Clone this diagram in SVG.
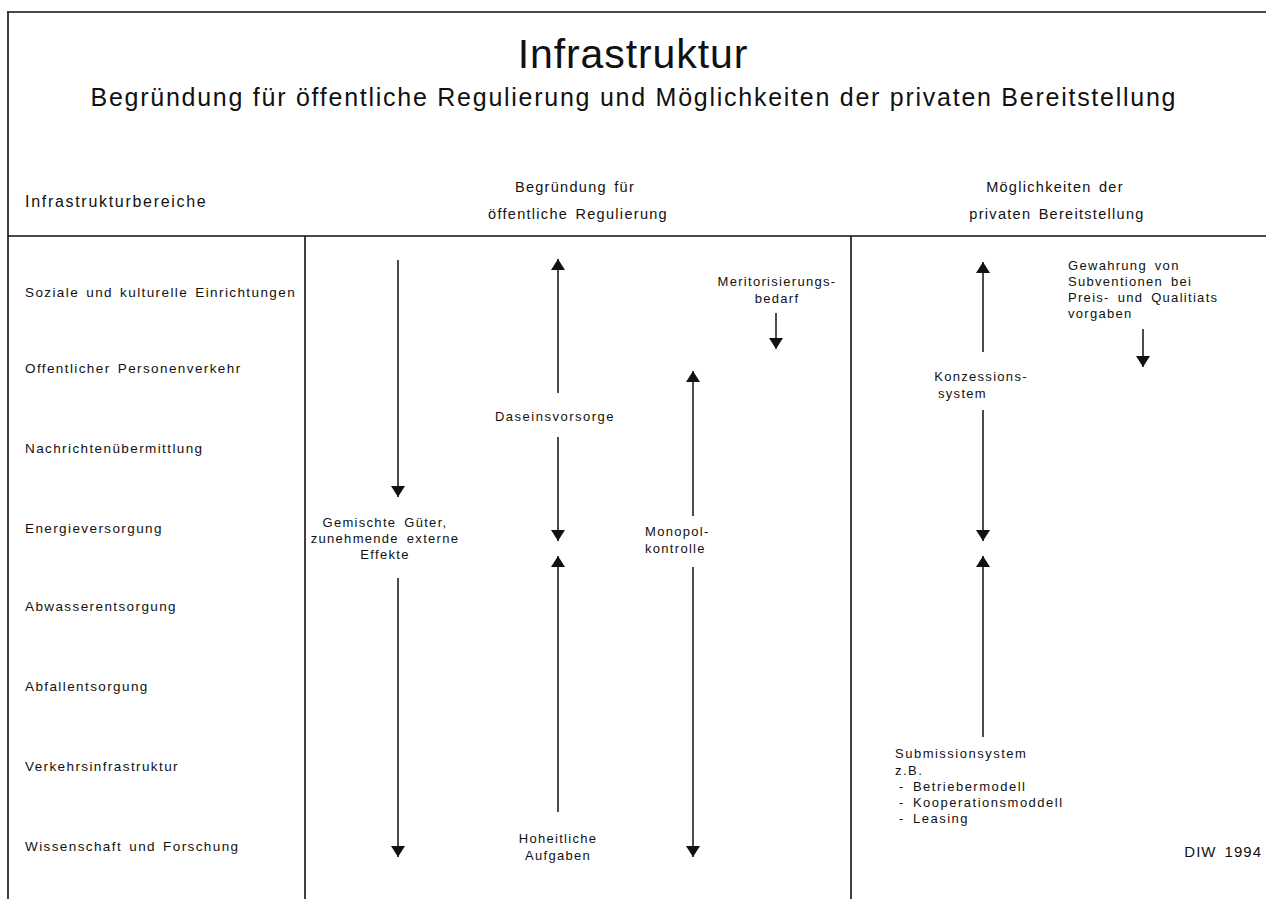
<svg xmlns="http://www.w3.org/2000/svg" width="1266" height="899" viewBox="0 0 1266 899">
<style>
text{font-family:"Liberation Sans",Arial,sans-serif;fill:#111}
.row{font-size:13.5px;letter-spacing:1.4px;word-spacing:2px}
.hdr{font-size:14.5px;letter-spacing:1.3px;word-spacing:2px}
.lbl{font-size:13px;letter-spacing:1.3px;word-spacing:3px}
.rl{letter-spacing:1.5px}
.mid{text-anchor:middle}
.frame{stroke:#111;stroke-width:1.6;fill:none}
.arr{stroke:#111;stroke-width:1.5;fill:none;marker-end:url(#ah)}
</style>
<defs>
<marker id="ah" viewBox="0 0 11 14" refX="11" refY="7" markerWidth="11" markerHeight="14" orient="auto" markerUnits="userSpaceOnUse"><path d="M0,0 L11,7 L0,14 z" fill="#111"/></marker>
</defs>
<rect width="1266" height="899" fill="#fff"/>
<g id="frame">
<path class="frame" d="M7,12 H1266 M8,12 V899 M8,236 H1266 M305,236 V899 M851,236 V899"/>
</g>
<g id="title">
<text x="633" y="68" class="mid" style="font-size:41px;letter-spacing:0.9px">Infrastruktur</text>
<text x="633" y="106" class="mid" style="font-size:25px" textLength="1085" lengthAdjust="spacing">Begründung für öffentliche Regulierung und Möglichkeiten der privaten Bereitstellung</text>
</g>
<g id="headers">
<text x="25" y="207" class="hdr" style="font-size:16px;letter-spacing:1.7px">Infrastrukturbereiche</text>
<text x="575" y="192" class="hdr mid">Begründung für</text>
<text x="578" y="219" class="hdr mid">öffentliche Regulierung</text>
<text x="1055" y="192" class="hdr mid">Möglichkeiten der</text>
<text x="1057" y="219" class="hdr mid">privaten Bereitstellung</text>
</g>
<g id="bereiche">
<text x="25" y="297" class="row">Soziale und kulturelle Einrichtungen</text>
<text x="25" y="373" class="row">Offentlicher Personenverkehr</text>
<text x="25" y="453" class="row">Nachrichtenübermittlung</text>
<text x="25" y="533" class="row">Energieversorgung</text>
<text x="25" y="611" class="row">Abwasserentsorgung</text>
<text x="25" y="691" class="row">Abfallentsorgung</text>
<text x="25" y="771" class="row">Verkehrsinfrastruktur</text>
<text x="25" y="851" class="row">Wissenschaft und Forschung</text>
</g>
<g id="connectors">
<path class="arr" d="M398,260 V497"/>
<path class="arr" d="M398,578 V857"/>
<path class="arr" d="M558,393 V259"/>
<path class="arr" d="M558,437 V541"/>
<path class="arr" d="M558,812 V556"/>
<path class="arr" d="M693,516 V371"/>
<path class="arr" d="M693,567 V857"/>
<path class="arr" d="M776,313 V349"/>
<path class="arr" d="M983,352 V262"/>
<path class="arr" d="M983,410 V541"/>
<path class="arr" d="M983,737 V556"/>
<path class="arr" d="M1143,329 V367"/>
</g>
<g id="gemischte">
<text x="385" y="527" class="lbl mid">Gemischte Güter,</text>
<text x="385" y="543" class="lbl mid">zunehmende externe</text>
<text x="385" y="559" class="lbl mid">Effekte</text>
</g>
<g id="daseinsvorsorge">
<text x="555" y="421" class="lbl mid rl">Daseinsvorsorge</text>
</g>
<g id="hoheitliche">
<text x="558" y="843" class="lbl mid">Hoheitliche</text>
<text x="558" y="860" class="lbl mid">Aufgaben</text>
</g>
<g id="monopol">
<text x="645" y="536" class="lbl">Monopol-</text>
<text x="645" y="553" class="lbl">kontrolle</text>
</g>
<g id="meritorisierung">
<text x="777" y="286" class="lbl mid">Meritorisierungs-</text>
<text x="777" y="303" class="lbl mid">bedarf</text>
</g>
<g id="konzession">
<text x="981" y="381" class="lbl mid">Konzessions-</text>
<text x="938" y="398" class="lbl">system</text>
</g>
<g id="subventionen">
<text x="1068" y="270" class="lbl">Gewahrung von</text>
<text x="1068" y="286" class="lbl">Subventionen bei</text>
<text x="1068" y="302" class="lbl">Preis- und Qualitiats</text>
<text x="1068" y="318" class="lbl">vorgaben</text>
</g>
<g id="submission">
<text x="895" y="758" class="lbl rl">Submissionsystem</text>
<text x="895" y="775" class="lbl rl">z.B.</text>
<text x="899" y="791" class="lbl rl">- Betriebermodell</text>
<text x="899" y="807" class="lbl rl">- Kooperationsmoddell</text>
<text x="899" y="823" class="lbl rl">- Leasing</text>
</g>
<g id="source">
<text x="1262" y="857" style="font-size:15px;letter-spacing:1px;word-spacing:3px;text-anchor:end">DIW 1994</text>
</g>
</svg>
